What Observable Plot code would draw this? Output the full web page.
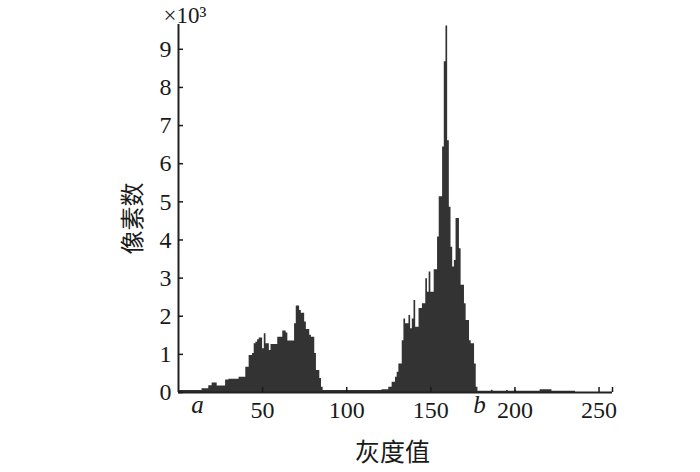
<!DOCTYPE html>
<html><head><meta charset="utf-8">
<script src="https://cdn.jsdelivr.net/npm/d3@7"></script>
<script src="https://cdn.jsdelivr.net/npm/@observablehq/plot@0.6"></script>
<style>body{margin:0;background:#fff}</style>
</head><body><div id="chart"></div>
<script>
// pixel counts (×10^3) for gray levels 0..255
const counts = [
  0.05,0.05,0.05,0.05,0.05,0.05,0.05,0.05,0.05,0.05,
  0.05,0.05,0.05,0.05,0.10,0.10,0.10,0.10,0.18,0.18,
  0.25,0.25,0.25,0.17,0.17,0.17,0.17,0.17,0.33,0.33,
  0.35,0.35,0.35,0.35,0.35,0.35,0.40,0.40,0.40,0.40,
  0.66,0.66,0.97,0.97,1.02,1.28,1.32,1.38,1.43,1.43,
  1.15,1.54,1.28,1.28,1.10,1.26,1.26,1.26,1.26,1.45,
  1.45,1.45,1.61,1.61,1.56,1.35,1.35,1.35,1.35,1.80,
  2.27,2.27,2.15,2.08,2.08,1.85,1.65,1.65,1.50,1.45,
  1.45,1.02,0.58,0.58,0.37,0.14,0.05,0.05,0.05,0.05,
  0.05,0.05,0.05,0.05,0.05,0.05,0.05,0.05,0.05,0.05,
  0.05,0.05,0.05,0.05,0.05,0.05,0.05,0.05,0.05,0.05,
  0.05,0.05,0.05,0.05,0.05,0.05,0.05,0.05,0.05,0.05,
  0.05,0.07,0.07,0.07,0.07,0.14,0.14,0.27,0.27,0.40,
  0.53,0.75,0.75,1.36,1.93,1.80,1.80,2.02,1.67,1.93,
  2.41,1.71,1.71,2.20,2.20,2.33,2.33,2.98,2.63,3.16,
  2.63,2.63,3.22,3.22,4.08,5.13,5.13,6.44,8.67,9.61,
  6.60,4.86,3.81,3.29,3.46,4.56,4.56,3.77,2.81,2.81,
  2.33,1.89,1.89,1.36,1.28,1.28,0.75,0.14,0.03,0.03,
  0.03,0.03,0.03,0.03,0.03,0.03,0.06,0.03,0.03,0.03,
  0.03,0.03,0.03,0.03,0.03,0.05,0.03,0.03,0.03,0.03,
  0.06,0.03,0.03,0.03,0.03,0.03,0.03,0.03,0.03,0.03,
  0.03,0.03,0.03,0.03,0.03,0.07,0.07,0.07,0.07,0.07,
  0.07,0.07,0.03,0.03,0.03,0.03,0.03,0.03,0.03,0.03,
  0.03,0.03,0.03,0.03,0.03,0.03,0,0,0,0,
  0,0,0,0,0,0,0,0,0,0,
  0,0,0,0,0,0
];
const xTicks = [50, 100, 150, 200, 250];
const xMax = 258;
const yTicks = [0, 1, 2, 3, 4, 5, 6, 7, 8, 9];
const yMax = 9.65;
const annotations = [{label: "a", x: 11.3}, {label: "b", x: 179}];
const xLabel = "灰度值";
const yLabel = "像素数";
const unitLabel = "×10³";

const data = counts.map((c, i) => ({v: i, c}));
data.push({v: counts.length, c: 0});

const serif = "Liberation Serif, Times New Roman, serif";
const cjk = "Noto Sans CJK SC, sans-serif";

const chart = Plot.plot({
  width: 700, height: 472,
  marginLeft: 178, marginRight: 88, marginTop: 24, marginBottom: 80,
  x: {domain: [0, xMax]},
  y: {domain: [0, yMax]},
  style: {color: "#1a1a1a", background: "#fff"},
  marks: [
    Plot.areaY(data, {x: "v", y: "c", curve: "step-after", fill: "#333"}),
    Plot.ruleY([0], {stroke: "#222", strokeWidth: 2}),
    Plot.ruleX([0], {stroke: "#222", strokeWidth: 2}),
    Plot.axisY(yTicks, {tickSize: -5, tickPadding: 12, strokeWidth: 1.5, fontSize: 24, fontFamily: serif, tickFormat: d => d, label: null}),
    Plot.axisX([...xTicks, xMax], {tickSize: -5, tickPadding: 13, strokeWidth: 1.5, fontSize: 24, fontFamily: serif, tickFormat: d => d === xMax ? "" : d, label: null}),
    Plot.text(annotations, {x: "x", y: 0, text: "label", dy: 3, lineAnchor: "top", fontStyle: "italic", fontSize: 25, fontFamily: serif}),
    Plot.text([unitLabel], {frameAnchor: "top-left", dx: -15, dy: -2, textAnchor: "start", lineAnchor: "bottom", fontSize: 23, fontFamily: serif}),
    Plot.text([yLabel], {frameAnchor: "left", textAnchor: "middle", lineAnchor: "middle", rotate: -90, dx: -45, dy: 10, fontSize: 24, fontFamily: cjk}),
    Plot.text([xLabel], {frameAnchor: "bottom", textAnchor: "middle", lineAnchor: "middle", dx: -3, dy: 60, fontSize: 25, fontFamily: cjk})
  ]
});
document.getElementById("chart").appendChild(chart);
</script>
</body></html>
